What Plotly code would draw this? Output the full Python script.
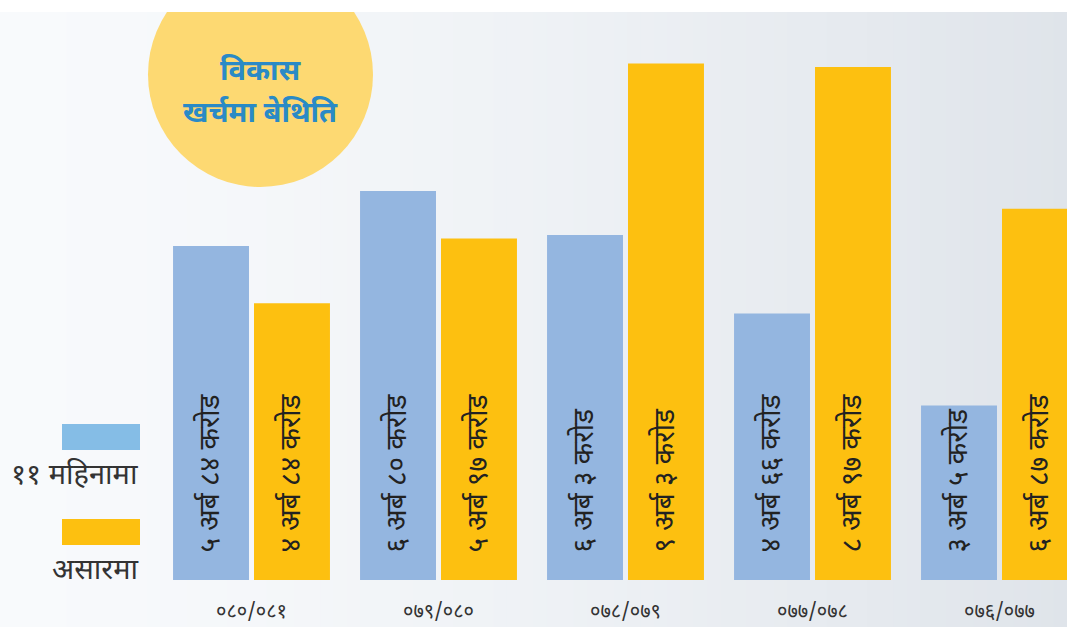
import plotly.graph_objects as go

categories = ["०८०/०८१", "०७९/०८०", "०७८/०७९", "०७७/०७८", "०७६/०७७"]
series_names = ["११ महिनामा", "असारमा"]
eleven_months = [5.84, 6.80, 6.03, 4.66, 3.05]
asar = [4.84, 5.97, 9.03, 8.97, 6.49]
eleven_labels = ["५ अर्ब ८४ करोड", "६ अर्ब ८० करोड", "६ अर्ब ३ करोड", "४ अर्ब ६६ करोड", "३ अर्ब ५ करोड"]
asar_labels = ["४ अर्ब ८४ करोड", "५ अर्ब ९७ करोड", "९ अर्ब ३ करोड", "८ अर्ब ९७ करोड", "६ अर्ब ८७ करोड"]
title_lines = ["विकास", "खर्चमा बेथिति"]

W, H = 1067, 627
MB = 30
PH = H - MB
BLUE = "#94b6e0"
YELLOW = "#fdc010"
LEG_BLUE = "#85bde6"
FONT = "Noto Sans Devanagari, Lohit Devanagari, Mukta, Noto Sans, sans-serif"

x_idx = list(range(len(categories)))

fig = go.Figure()
fig.add_trace(go.Bar(x=x_idx, y=eleven_months, name=series_names[0],
                     marker=dict(color=BLUE, line=dict(width=0)), showlegend=False))
fig.add_trace(go.Bar(x=x_idx, y=asar, name=series_names[1],
                     marker=dict(color=YELLOW, line=dict(width=0)), showlegend=False))

# pixel mapping
px_per_cat = 187.0
c0 = 251.5
xr = [(0 - c0) / px_per_cat, (W - c0) / px_per_cat]
scale = 57.2
base_px = 580
yr = [-(PH - base_px) / scale, base_px / scale]

def py(px):
    return (PH - px) / PH

def pxx(px):
    return px / W

shapes = []
# gradient background
N = 80
def lerp(a, b, t):
    return int(round(a + (b - a) * t))
c_left = (248, 250, 252)
c_right = (223, 228, 234)
for i in range(N):
    t = (i + 0.5) / N
    tt = t ** 1.4
    col = "rgb(%d,%d,%d)" % tuple(lerp(c_left[k], c_right[k], tt) for k in range(3))
    shapes.append(dict(type="rect", xref="paper", yref="paper",
                       x0=i / N, x1=(i + 1) / N + 0.002, y0=py(H + 5), y1=py(12),
                       fillcolor=col, line=dict(width=0), layer="below"))
# circle
shapes.append(dict(type="circle", xref="paper", yref="paper",
                   x0=pxx(148), x1=pxx(373), y0=py(187), y1=py(-38),
                   fillcolor="#fdd972", line=dict(width=0), layer="below"))
# white top strip
shapes.append(dict(type="rect", xref="paper", yref="paper",
                   x0=0, x1=1, y0=py(12), y1=py(-5),
                   fillcolor="white", line=dict(width=0), layer="below"))
# legend swatches
shapes.append(dict(type="rect", xref="paper", yref="paper",
                   x0=pxx(62), x1=pxx(140), y0=py(450), y1=py(424),
                   fillcolor=LEG_BLUE, line=dict(width=0), layer="above"))
shapes.append(dict(type="rect", xref="paper", yref="paper",
                   x0=pxx(62), x1=pxx(140), y0=py(545), y1=py(519),
                   fillcolor=YELLOW, line=dict(width=0), layer="above"))

annotations = []
off = 40.5 / px_per_cat
for i in x_idx:
    for lab, dx in ((eleven_labels[i], -off), (asar_labels[i], off)):
        annotations.append(dict(x=i + dx, y=0, xref="x", yref="y", text=lab,
                                textangle=-90, showarrow=False, yanchor="bottom",
                                xanchor="center", yshift=25,
                                font=dict(family=FONT, size=28, color="#222222")))
annotations.append(dict(x=pxx(140), y=py(477), xref="paper", yref="paper",
                        text=series_names[0], showarrow=False, xanchor="right",
                        yanchor="middle", font=dict(family=FONT, size=29, color="#333333")))
annotations.append(dict(x=pxx(140), y=py(572), xref="paper", yref="paper",
                        text=series_names[1], showarrow=False, xanchor="right",
                        yanchor="middle", font=dict(family=FONT, size=29, color="#333333")))
annotations.append(dict(x=pxx(260), y=py(73), xref="paper", yref="paper",
                        text="<b>%s</b>" % title_lines[0], showarrow=False,
                        xanchor="center", yanchor="middle",
                        font=dict(family=FONT, size=29, color="#2a8ac6")))
annotations.append(dict(x=pxx(260), y=py(114), xref="paper", yref="paper",
                        text="<b>%s</b>" % title_lines[1], showarrow=False,
                        xanchor="center", yanchor="middle",
                        font=dict(family=FONT, size=29, color="#2a8ac6")))

fig.update_layout(
    width=W, height=H,
    margin=dict(l=0, r=0, t=0, b=MB, pad=0, autoexpand=False),
    paper_bgcolor="#e8ecf0",
    plot_bgcolor="rgba(0,0,0,0)",
    barmode="group",
    bargap=0.134,
    bargroupgap=0.062,
    shapes=shapes,
    annotations=annotations,
    xaxis=dict(range=xr, tickvals=x_idx, ticktext=categories, showgrid=False,
               zeroline=False, showline=False, ticks="", ticklen=0, automargin=False,
               tickfont=dict(family=FONT, size=20, color="#333333")),
    yaxis=dict(range=yr, showgrid=False, zeroline=False, showline=False,
               showticklabels=False, ticks="", automargin=False),
)

fig.write_html("out.html", config={"displayModeBar": False},
               post_script="document.body.style.margin='0';document.body.style.overflow='hidden';")
